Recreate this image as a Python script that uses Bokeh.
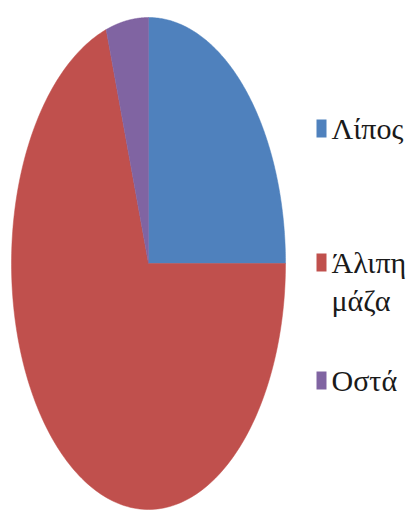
import numpy as np
from bokeh.plotting import figure
from bokeh.models import Range1d, ColumnDataSource
from bokeh.core.properties import value
from bokeh.embed import file_html
from bokeh.resources import INLINE

# ---- data ----
categories = ["Λίπος", "Άλιπη μάζα", "Οστά"]
shares = [25, 70, 5]
colors = ["#4F81BD", "#C0504D", "#8064A2"]

# ---- layout (pixels inside the figure) ----
W, H = 408, 516
CX, CY = 148, 263          # pie centre, from top-left
RX, RY = 137, 246          # pie radii
X0, X1 = -CX / RX, (W - CX) / RX
Y1, Y0 = CY / RY, -(H - CY) / RY

def dx(px):
    return X0 + px * (X1 - X0) / W

def dy(py):
    return Y1 - py * (Y1 - Y0) / H

p = figure(width=W, height=H, output_backend="svg", toolbar_location=None,
           x_range=Range1d(X0, X1), y_range=Range1d(Y0, Y1),
           min_border=0, match_aspect=False)
p.axis.visible = False
p.grid.visible = False
p.outline_line_color = None
p.background_fill_color = "white"
p.border_fill_color = "white"

# pie slices, starting at 12 o'clock and going clockwise
total = float(sum(shares))
cum = np.concatenate([[0.0], np.cumsum(shares) / total])
xs, ys = [], []
for i in range(len(shares)):
    t = np.linspace(cum[i], cum[i + 1], 200)
    ang = np.pi / 2 - 2 * np.pi * t
    xs.append([0.0] + list(np.cos(ang)) + [0.0])
    ys.append([0.0] + list(np.sin(ang)) + [0.0])
p.patches(xs=xs, ys=ys, fill_color=colors, line_color=colors, line_width=0.5)

# legend (manual, with the wrapped label)
item_tops = [128, 262, 380]
line_gap = 38
mx, tx = 321, 331
p.rect(x=[dx(mx)] * 3, y=[dy(v) for v in item_tops], width=10, height=18,
       width_units="screen", height_units="screen",
       fill_color=colors, line_color=None)

lx, ly, lt = [], [], []
for name, top in zip(categories, item_tops):
    for k, part in enumerate(name.split(" ")):
        lx.append(dx(tx))
        ly.append(dy(top + k * line_gap))
        lt.append(part)
src = ColumnDataSource(dict(x=lx, y=ly, t=lt))
p.text(x="x", y="y", text="t", source=src, text_font=value("Liberation Serif"),
       text_font_size="30px", text_baseline="middle", text_align="left",
       text_color="#1a1a1a")

open("out.html", "w").write(file_html(p, INLINE))
